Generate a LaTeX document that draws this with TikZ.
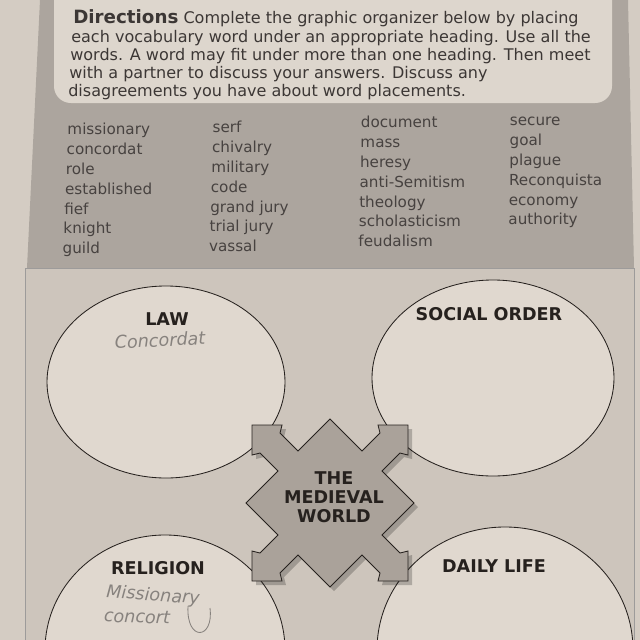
\documentclass[tikz,border=0pt]{standalone}
\usepackage{fontspec}
\setmainfont{DejaVu Sans}
\usetikzlibrary{positioning}
\definecolor{paper}{RGB}{212,204,195}
\definecolor{band}{RGB}{172,165,158}
\definecolor{boxfill}{RGB}{221,214,205}
\definecolor{panel}{RGB}{205,197,188}
\definecolor{bubblefill}{RGB}{224,216,207}
\definecolor{hubfill}{RGB}{170,162,154}
\definecolor{ink}{RGB}{38,33,30}
\definecolor{pencil}{RGB}{135,130,126}
\newcommand{\hubpath}{(-84,0) -- (-52,-32) -- (-70,-50) -- (-78,-48) -- (-78,-78) -- (-48,-78) -- (-50,-70) -- (-32,-52) -- (0,-84) -- (32,-52) -- (50,-70) -- (48,-78) -- (78,-78) -- (78,-48) -- (70,-50) -- (52,-32) -- (84,0) -- (52,32) -- (70,50) -- (78,48) -- (78,78) -- (48,78) -- (50,70) -- (32,52) -- (0,84) -- (-32,52) -- (-50,70) -- (-48,78) -- (-78,78) -- (-78,48) -- (-70,50) -- (-52,32) -- cycle}

\tikzset{
  dirline/.style={anchor=base west,inner sep=0pt,text=ink!90,font=\fontsize{11.4}{12}\selectfont},
  word/.style={anchor=base west,inner sep=0pt,text=ink!85,font=\fontsize{10.8}{12}\selectfont},
  heading/.style={text=ink,inner sep=0pt,font=\bfseries\fontsize{12.5}{13.5}\selectfont},
  bubble/.style={draw=ink,line width=0.6pt,fill=bubblefill},
  scrawl/.style={text=pencil,inner sep=0pt,font=\fontsize{12.5}{14}\selectfont\itshape},
}

\begin{document}
\begin{tikzpicture}[x=0.025cm,y=-0.025cm]
  \useasboundingbox (0,0) rectangle (640,640);
  \clip (0,0) rectangle (640,640);
  \fill[paper] (0,0) rectangle (640,640);
  \fill[band] (40,0) -- (628,0) -- (634,268) -- (27,268) -- cycle;
  \fill[boxfill,rounded corners=12] (54,-20) rectangle (612,103);
  \draw[ink!45,fill=panel] (25,268) rectangle (634,660);

  % directions
  \node[dirline] (dir1) at (73,23) {\textbf{\fontsize{13}{13}\selectfont Directions} Complete the graphic organizer below by placing};
  \node[dirline] (dir2) at (71,42) {each vocabulary word under an appropriate heading. Use all the};
  \node[dirline] (dir3) at (70,60) {words. A word may fit under more than one heading. Then meet};
  \node[dirline] (dir4) at (69,78) {with a partner to discuss your answers. Discuss any};
  \node[dirline] (dir5) at (68,96) {disagreements you have about word placements.};

  % word bank
  \foreach \w [count=\i] in {missionary,concordat,role,established,fief,knight,guild}
    \node[word] (wa\i) at ({68-0.8*\i},{115+19.8*\i}) {\w};
  \foreach \w [count=\i] in {serf,chivalry,military,code,grand jury,trial jury,vassal}
    \node[word] (wb\i) at ({213-0.6*\i},{113+19.8*\i}) {\w};
  \foreach \w [count=\i] in {document,mass,heresy,anti-Semitism,theology,scholasticism,feudalism}
    \node[word] (wc\i) at ({361-0.4*\i},{108+19.8*\i}) {\w};
  \foreach \w [count=\i] in {secure,goal,plague,Reconquista,economy,authority}
    \node[word] (wd\i) at ({510-0.3*\i},{106+19.8*\i}) {\w};

  % bubbles
  \coordinate (law) at (166,382);
  \coordinate (social) at (493,378);
  \coordinate (religion) at (165,650);
  \coordinate (daily) at (505,650);
  \draw[bubble] (law) ellipse [x radius=119, y radius=96];
  \draw[bubble] (social) ellipse [x radius=121, y radius=98];
  \draw[bubble] (religion) ellipse [x radius=120, y radius=115];
  \draw[bubble] (daily) ellipse [x radius=128, y radius=123];

  % hub
  \fill[black,opacity=.22,shift={(334,507)}] \hubpath;
  \draw[ink,line width=0.6pt,fill=hubfill,shift={(330,503)}] \hubpath;
  \node[heading,align=center] (hub) at (334,497) {THE\\MEDIEVAL\\WORLD};

  \node[heading] (lawtitle) at (167,319) {LAW};
  \node[heading] (socialtitle) at (489,314) {SOCIAL ORDER};
  \node[heading] (religiontitle) at (158,568) {RELIGION};
  \node[heading] (dailytitle) at (494,566) {DAILY LIFE};

  % pencil notes
  \node[scrawl,rotate=3] (lawnote) at (160,340) {Concordat};
  \node[scrawl,rotate=-4] (relnote1) at (153,596) {Missionary};
  \node[scrawl,rotate=-2] (relnote2) at (137,617) {concort};
  \draw[pencil,line width=0.6pt] (188,606) .. controls (186,642) and (214,640) .. (210,608);
\end{tikzpicture}
\end{document}
